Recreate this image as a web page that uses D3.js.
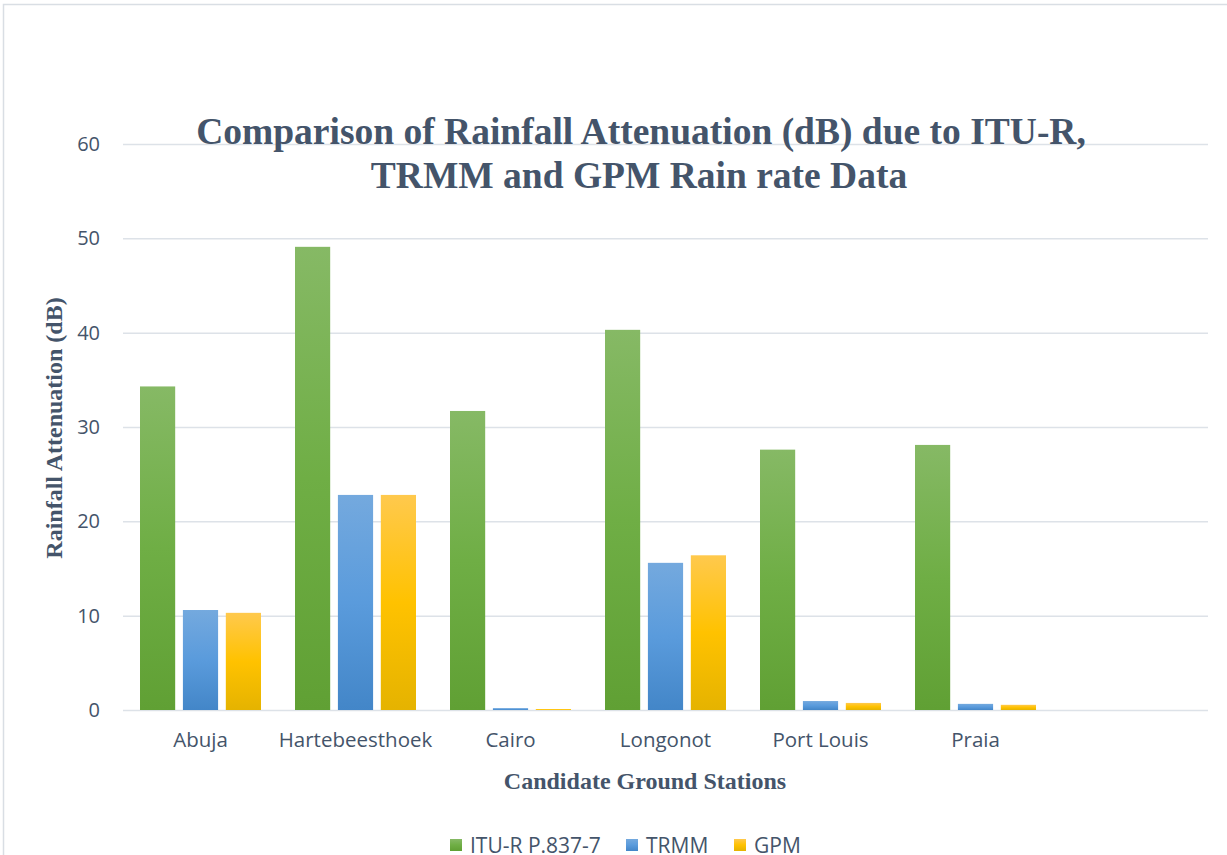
<!DOCTYPE html>
<html>
<head>
<meta charset="utf-8">
<script src="https://cdn.jsdelivr.net/npm/d3@7"></script>
<style>
    body { margin: 0; background: #fff; }
    svg { display: block; }
    .tick text { font-family: "Open Sans", sans-serif; fill: #44546a; }
</style>
</head>
<body>
<div id="chart"></div>
<script>
    // stations on the x axis, the last slot is empty in the original
    const stations = ['Abuja', 'Hartebeesthoek', 'Cairo', 'Longonot', 'Port Louis', 'Praia', '']
    const seriesNames = ['ITU-R P.837-7', 'TRMM', 'GPM']
    const ituValues = [34.3, 49.1, 31.7, 40.3, 27.6, 28.1]
    const trmmValues = [10.6, 22.8, 0.2, 15.6, 0.95, 0.65]
    const gpmValues = [10.3, 22.8, 0.1, 16.4, 0.75, 0.55]
    const yTicks = [0, 10, 20, 30, 40, 50, 60]

    const width = 1227, height = 855
    const textColor = '#44546a'
    const gridColor = '#dde2e8'

    // colour stops top -> middle -> bottom, like the office gradient fill
    const fills = [
        ['#86b965', '#6fae45', '#60a034'],
        ['#74a9de', '#5a9bdc', '#4386c8'],
        ['#ffc94d', '#ffc200', '#e5b300']
    ]

    const svg = d3.select('#chart').append('svg')
        .attr('width', width)
        .attr('height', height)

    const defs = svg.append('defs')
    fills.forEach((c, i) => {
        const g = defs.append('linearGradient')
            .attr('id', 'grad' + i)
            .attr('x1', 0).attr('y1', 0).attr('x2', 0).attr('y2', 1)
        g.append('stop').attr('offset', '0%').attr('stop-color', c[0])
        g.append('stop').attr('offset', '50%').attr('stop-color', c[1])
        g.append('stop').attr('offset', '100%').attr('stop-color', c[2])
    })

    // chart frame (cut at right / bottom in the picture)
    svg.append('rect')
        .attr('x', 3.5).attr('y', 4.5)
        .attr('width', width + 10).attr('height', height + 10)
        .attr('fill', 'none')
        .attr('stroke', '#d9dee4')
        .attr('stroke-width', 1.5)

    const plotLeft = 123, plotRight = 1208, plotTop = 144, plotBottom = 710

    const x0 = d3.scaleBand()
        .domain(stations)
        .range([plotLeft, plotRight])

    const x1 = d3.scaleBand()
        .domain(seriesNames)
        .range([17, x0.bandwidth() - 17])
        .paddingInner(0.18)

    const y = d3.scaleLinear()
        .domain([0, 60])
        .range([plotBottom, plotTop])

    // grid + y labels
    const yAxis = svg.append('g')
        .attr('transform', `translate(${plotLeft},0)`)
        .call(d3.axisLeft(y).tickValues(yTicks).tickSize(-(plotRight - plotLeft)).tickPadding(23))
    yAxis.select('.domain').remove()
    yAxis.selectAll('.tick line').attr('stroke', gridColor).attr('stroke-width', 1.5)
    yAxis.selectAll('.tick text').attr('font-size', 20)

    // x labels
    const xAxis = svg.append('g')
        .attr('transform', `translate(0,${plotBottom})`)
        .call(d3.axisBottom(x0).tickSize(0).tickPadding(22))
    xAxis.select('.domain').remove()
    xAxis.selectAll('.tick text').attr('font-size', 20.5)

    const seriesValues = [ituValues, trmmValues, gpmValues]
    const rows = stations.slice(0, 6).map((s, i) => ({
        station: s,
        values: seriesNames.map((n, j) => ({name: n, idx: j, value: seriesValues[j][i]}))
    }))

    const groups = svg.append('g')
        .selectAll('g')
        .data(rows)
        .join('g')
        .attr('transform', d => `translate(${x0(d.station)},0)`)

    groups.selectAll('rect')
        .data(d => d.values)
        .join('rect')
        .attr('x', d => x1(d.name))
        .attr('width', x1.bandwidth())
        .attr('y', d => y(d.value))
        .attr('height', d => y(0) - y(d.value))
        .attr('fill', d => `url(#grad${d.idx})`)

    // title
    const title = svg.append('text')
        .attr('x', 641)
        .attr('y', 144)
        .attr('text-anchor', 'middle')
        .attr('font-family', '"Liberation Serif", "Times New Roman", serif')
        .attr('font-weight', 'bold')
        .attr('font-size', 37.5)
        .attr('fill', textColor)
    title.append('tspan').attr('x', 641).text('Comparison of Rainfall Attenuation (dB) due to ITU-R,')
    title.append('tspan').attr('x', 639).attr('dy', 44).text('TRMM and GPM Rain rate Data')

    // axis titles
    svg.append('text')
        .attr('transform', 'translate(62,428) rotate(-90)')
        .attr('text-anchor', 'middle')
        .attr('font-family', '"Liberation Serif", "Times New Roman", serif')
        .attr('font-weight', 'bold')
        .attr('font-size', 24)
        .attr('fill', textColor)
        .text('Rainfall Attenuation (dB)')

    svg.append('text')
        .attr('x', 645)
        .attr('y', 789)
        .attr('text-anchor', 'middle')
        .attr('font-family', '"Liberation Serif", "Times New Roman", serif')
        .attr('font-weight', 'bold')
        .attr('font-size', 24)
        .attr('fill', textColor)
        .text('Candidate Ground Stations')

    // legend
    const legendX = [450, 626, 734]
    const legend = svg.append('g')
        .selectAll('g')
        .data(seriesNames)
        .join('g')
        .attr('transform', (d, i) => `translate(${legendX[i]},839)`)
    legend.append('rect')
        .attr('width', 12).attr('height', 12)
        .attr('fill', (d, i) => `url(#grad${i})`)
    legend.append('text')
        .attr('x', 20)
        .attr('y', 14)
        .attr('font-family', '"Open Sans", sans-serif')
        .attr('font-size', 21)
        .attr('fill', textColor)
        .text(d => d)
</script>
</body>
</html>
